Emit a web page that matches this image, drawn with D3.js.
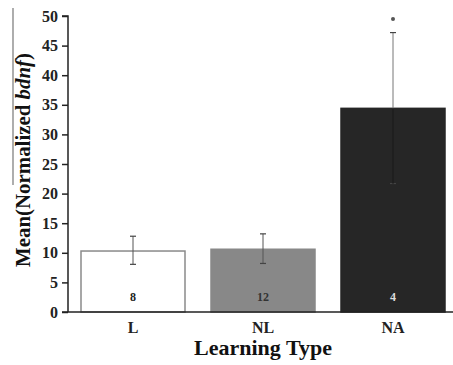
<!DOCTYPE html>
<html>
<head>
<meta charset="utf-8">
<script src="https://cdn.jsdelivr.net/npm/d3@7"></script>
<style>
  body { margin: 0; background: #fff; }
  text { font-family: "Liberation Serif", "DejaVu Serif", serif; font-weight: bold; }
</style>
</head>
<body>
<script>
"use strict";

const width = 453;
const height = 365;

// data
const categories = ["L", "NL", "NA"];
const means = [10.3, 10.6, 34.4];
const errLow = [8.05, 8.2, 21.7];
const errHigh = [12.8, 13.2, 47.2];
const counts = ["8", "12", "4"];
const barColors = ["#ffffff", "#888888", "#262626"];
const countColors = ["#222222", "#333333", "#dddddd"];
const yTicks = [0, 5, 10, 15, 20, 25, 30, 35, 40, 45, 50];
const starValue = 49.5;

const svg = d3
  .select("body")
  .append("svg")
  .attr("width", width)
  .attr("height", height);

const x = d3.scaleBand()
  .domain(categories)
  .range([68, 458])
  .paddingInner(0.2)
  .paddingOuter(0.1);

const y = d3.scaleLinear().domain([0, 50]).range([312, 16]);

// bars
svg.selectAll("rect.bar")
  .data(categories)
  .enter()
  .append("rect")
  .attr("class", "bar")
  .attr("x", d => x(d))
  .attr("y", (d, i) => y(means[i]))
  .attr("width", x.bandwidth())
  .attr("height", (d, i) => y(0) - y(means[i]))
  .attr("fill", (d, i) => barColors[i])
  .attr("stroke", (d, i) => i === 0 ? "#8a8a8a" : barColors[i])
  .attr("stroke-width", 1.5);

// error bars
const cx = d => x(d) + x.bandwidth() / 2;
svg.selectAll("line.err")
  .data(categories)
  .enter()
  .append("line")
  .attr("x1", cx)
  .attr("x2", cx)
  .attr("y1", (d, i) => y(errLow[i]))
  .attr("y2", (d, i) => y(errHigh[i]))
  .attr("stroke", (d, i) => i === 2 ? "#777" : "#555")
  .attr("stroke-width", 1);

categories.forEach((d, i) => {
  [errLow[i], errHigh[i]].forEach(v => {
    svg.append("line")
      .attr("x1", cx(d) - 3)
      .attr("x2", cx(d) + 3)
      .attr("y1", y(v))
      .attr("y2", y(v))
      .attr("stroke", "#444")
      .attr("stroke-width", 1.2);
  });
});

// the NA whisker inside the dark bar
svg.append("line")
  .attr("x1", cx("NA"))
  .attr("x2", cx("NA"))
  .attr("y1", y(means[2]))
  .attr("y2", y(errLow[2]))
  .attr("stroke", "#111")
  .attr("stroke-width", 1.5);

// significance mark
svg.append("circle")
  .attr("cx", cx("NA"))
  .attr("cy", y(starValue))
  .attr("r", 2)
  .attr("fill", "#555");

// sample sizes
svg.selectAll("text.count")
  .data(categories)
  .enter()
  .append("text")
  .attr("x", cx)
  .attr("y", 301)
  .attr("text-anchor", "middle")
  .attr("font-size", 12)
  .attr("fill", (d, i) => countColors[i])
  .text((d, i) => counts[i]);

// axes
const yAxis = d3.axisLeft(y).tickValues(yTicks).tickSize(6).tickPadding(4);
const gy = svg.append("g").attr("transform", "translate(68,0)").call(yAxis);
gy.select(".domain").attr("stroke", "#222").attr("stroke-width", 1.5).attr("d", "M-6,16H0V312");
gy.selectAll(".tick line").attr("stroke", "#222").attr("stroke-width", 1.5);
gy.selectAll(".tick text")
  .attr("font-size", 16)
  .attr("fill", "#222")
  .style("font-family", "'Liberation Serif', serif")
  .style("font-weight", "bold");

svg.append("line")
  .attr("x1", 62)
  .attr("x2", 453)
  .attr("y1", y(0))
  .attr("y2", y(0))
  .attr("stroke", "#222")
  .attr("stroke-width", 1.5);

const xAxis = d3.axisBottom(x).tickSize(0).tickPadding(10);
const gx = svg.append("g").attr("transform", "translate(0,312)").call(xAxis);
gx.select(".domain").remove();
gx.selectAll(".tick text")
  .attr("font-size", 16)
  .attr("fill", "#222")
  .style("font-family", "'Liberation Serif', serif")
  .style("font-weight", "bold");

// axis titles
svg.append("text")
  .attr("x", 263)
  .attr("y", 355)
  .attr("text-anchor", "middle")
  .attr("font-size", 22)
  .attr("fill", "#111")
  .text("Learning Type");

const yt = svg.append("text")
  .attr("transform", "translate(30,160) rotate(-90)")
  .attr("text-anchor", "middle")
  .attr("font-size", 21)
  .attr("textLength", 214)
  .attr("lengthAdjust", "spacingAndGlyphs")
  .attr("fill", "#111");
yt.append("tspan").text("Mean(Normalized ");
yt.append("tspan").attr("font-style", "italic").text("bdnf");
yt.append("tspan").text(")");

// stray overline from the original figure
svg.append("line")
  .attr("x1", 13)
  .attr("x2", 13)
  .attr("y1", 8)
  .attr("y2", 185)
  .attr("stroke", "#777")
  .attr("stroke-width", 1.2);
</script>
</body>
</html>
